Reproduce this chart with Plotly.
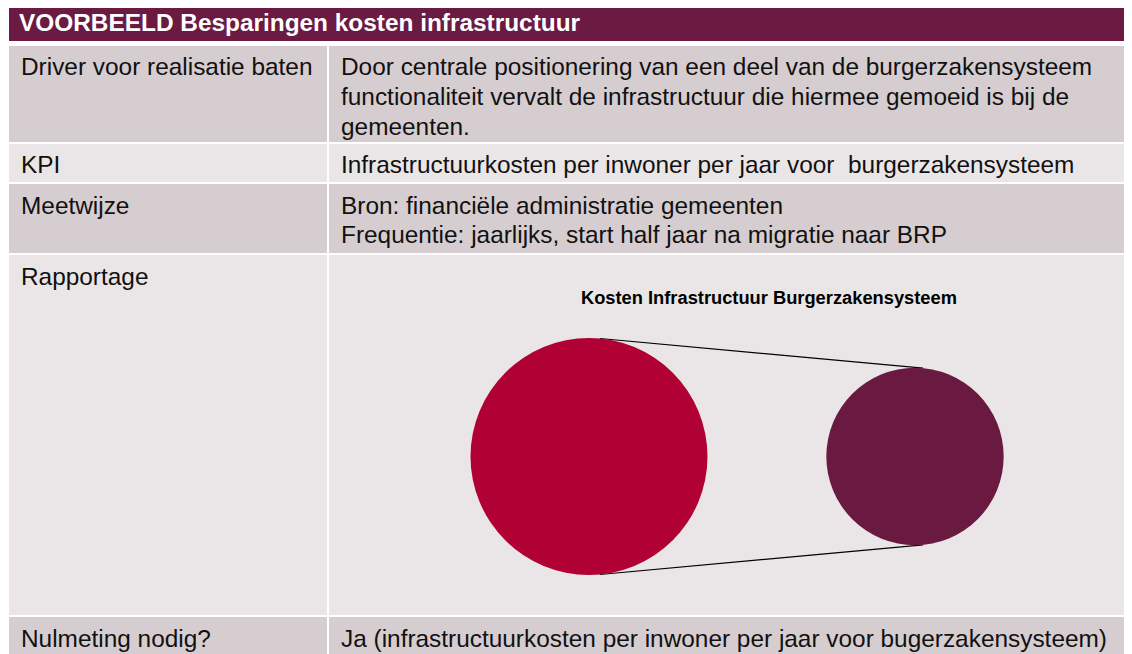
import math
import plotly.graph_objects as go

# ---------------- data ----------------
titel = "VOORBEELD Besparingen kosten infrastructuur"
labels_links = ["Driver voor realisatie baten", "KPI", "Meetwijze", "Rapportage", "Nulmeting nodig?"]
teksten_rechts = [
    ["Door centrale positionering van een deel van de burgerzakensysteem",
     "functionaliteit vervalt de infrastructuur die hiermee gemoeid is bij de",
     "gemeenten."],
    ["Infrastructuurkosten per inwoner per jaar voor&nbsp; burgerzakensysteem"],
    ["Bron: financiële administratie gemeenten",
     "Frequentie: jaarlijks, start half jaar na migratie naar BRP"],
    [],
    ["Ja (infrastructuurkosten per inwoner per jaar voor bugerzakensysteem)"],
]
grafiek_titel = "Kosten Infrastructuur Burgerzakensysteem"
situaties = ["Huidige situatie", "Na migratie naar BRP"]
kosten = [100, 56]          # relative infrastructure cost (bubble area)
kleuren = ["#B00034", "#6A1A40"]

# ---------------- layout helpers ----------------
OFF = 8                      # page body margin of the html page
W, H = 1132 - OFF, 654 - OFF
def px(x): return (x - OFF) / W
def py(y): return 1 - (y - OFF) / H

DARK, LIGHT, HEAD = "#D6CDD0", "#EAE6E7", "#6B1A41"
FONT = "Liberation Sans, Arial, sans-serif"
TXT = "#111111"
FS = 24.4

# row geometry (pixel top, bottom), text line centres
rows = [(46, 142, DARK, [66.5, 96.5, 126]),
        (144, 182, LIGHT, [164.5]),
        (184, 253, DARK, [205.5, 234.5]),
        (255, 615, LIGHT, [276.5]),
        (617, 654, DARK, [638.5])]
COL_L0, COL_L1, COL_R0, COL_R1 = 9, 327, 329, 1132

fig = go.Figure()
shapes, annotations = [], []

shapes.append(dict(type="rect", xref="paper", yref="paper", x0=px(COL_L0), x1=px(COL_R1),
                   y0=py(41), y1=py(5), fillcolor=HEAD, line=dict(width=0), layer="below"))
annotations.append(dict(text="<b>" + titel + "</b>", x=px(16.5), y=py(22.5), xref="paper", yref="paper",
                        xanchor="left", yanchor="middle", showarrow=False,
                        font=dict(family=FONT, size=FS, color="white")))

for (t, b, col, lines), lab, rtext in zip(rows, labels_links, teksten_rechts):
    for x0, x1 in [(COL_L0, COL_L1), (COL_R0, COL_R1)]:
        shapes.append(dict(type="rect", xref="paper", yref="paper", x0=px(x0), x1=px(x1),
                           y0=py(b), y1=py(t), fillcolor=col, line=dict(width=0), layer="below"))
    annotations.append(dict(text=lab, x=px(18.5), y=py(lines[0]), xref="paper", yref="paper",
                            xanchor="left", yanchor="middle", showarrow=False,
                            font=dict(family=FONT, size=FS, color=TXT)))
    for i, line in enumerate(rtext):
        annotations.append(dict(text=line, x=px(338.5), y=py(lines[i]), xref="paper", yref="paper",
                                xanchor="left", yanchor="middle", showarrow=False,
                                font=dict(family=FONT, size=FS, color=TXT)))

# ---------------- bubble chart inside "Rapportage" ----------------
# axis domain in pixels; 1 data unit = UNIT pixels on both axes
DX0, DX1, DY0, DY1 = 430, 1050, 320, 600
UNIT = 326.0
CX0_PX, CY_PX = 589.0, 456.5
xr = [-(CX0_PX - DX0) / UNIT, (DX1 - CX0_PX) / UNIT]
yr = [-(DY1 - CY_PX) / UNIT, (CY_PX - DY0) / UNIT]
R_MAX = 118.5 / UNIT

xs = list(range(len(kosten)))
radii = [R_MAX * math.sqrt(v / max(kosten)) for v in kosten]

# outer tangent lines between the two circles
d = xs[1] - xs[0]
s = (radii[0] - radii[1]) / d
c = math.sqrt(1 - s * s)
for sign in (1, -1):
    p0 = (xs[0] + radii[0] * s, sign * radii[0] * c)
    p1 = (xs[1] + radii[1] * s, sign * radii[1] * c)
    fig.add_trace(go.Scatter(x=[p0[0], p1[0]], y=[p0[1], p1[1]], mode="lines",
                             line=dict(color="black", width=1.2), hoverinfo="skip",
                             showlegend=False))

for xi, r, col in zip(xs, radii, kleuren):
    shapes.append(dict(type="circle", xref="x", yref="y", x0=xi - r, x1=xi + r,
                       y0=-r, y1=r, fillcolor=col, line=dict(width=0), layer="above"))

fig.add_trace(go.Scatter(x=xs, y=[0] * len(xs), mode="markers",
                         marker=dict(size=1, opacity=0), text=situaties,
                         customdata=kosten, hovertemplate="%{text}: %{customdata}<extra></extra>",
                         showlegend=False))

annotations.append(dict(text="<b>" + grafiek_titel + "</b>", x=px(768.5), y=py(297),
                        xref="paper", yref="paper", xanchor="center", yanchor="middle",
                        showarrow=False, font=dict(family=FONT, size=18.3, color="black")))

fig.update_layout(
    width=W, height=H, margin=dict(l=0, r=0, t=0, b=0),
    paper_bgcolor="white", plot_bgcolor="rgba(0,0,0,0)",
    xaxis=dict(domain=[px(DX0), px(DX1)], range=xr, visible=False, fixedrange=True),
    yaxis=dict(domain=[py(DY1), py(DY0)], range=yr, visible=False, fixedrange=True),
    shapes=shapes, annotations=annotations, showlegend=False,
)

fig.write_html("out.html")
